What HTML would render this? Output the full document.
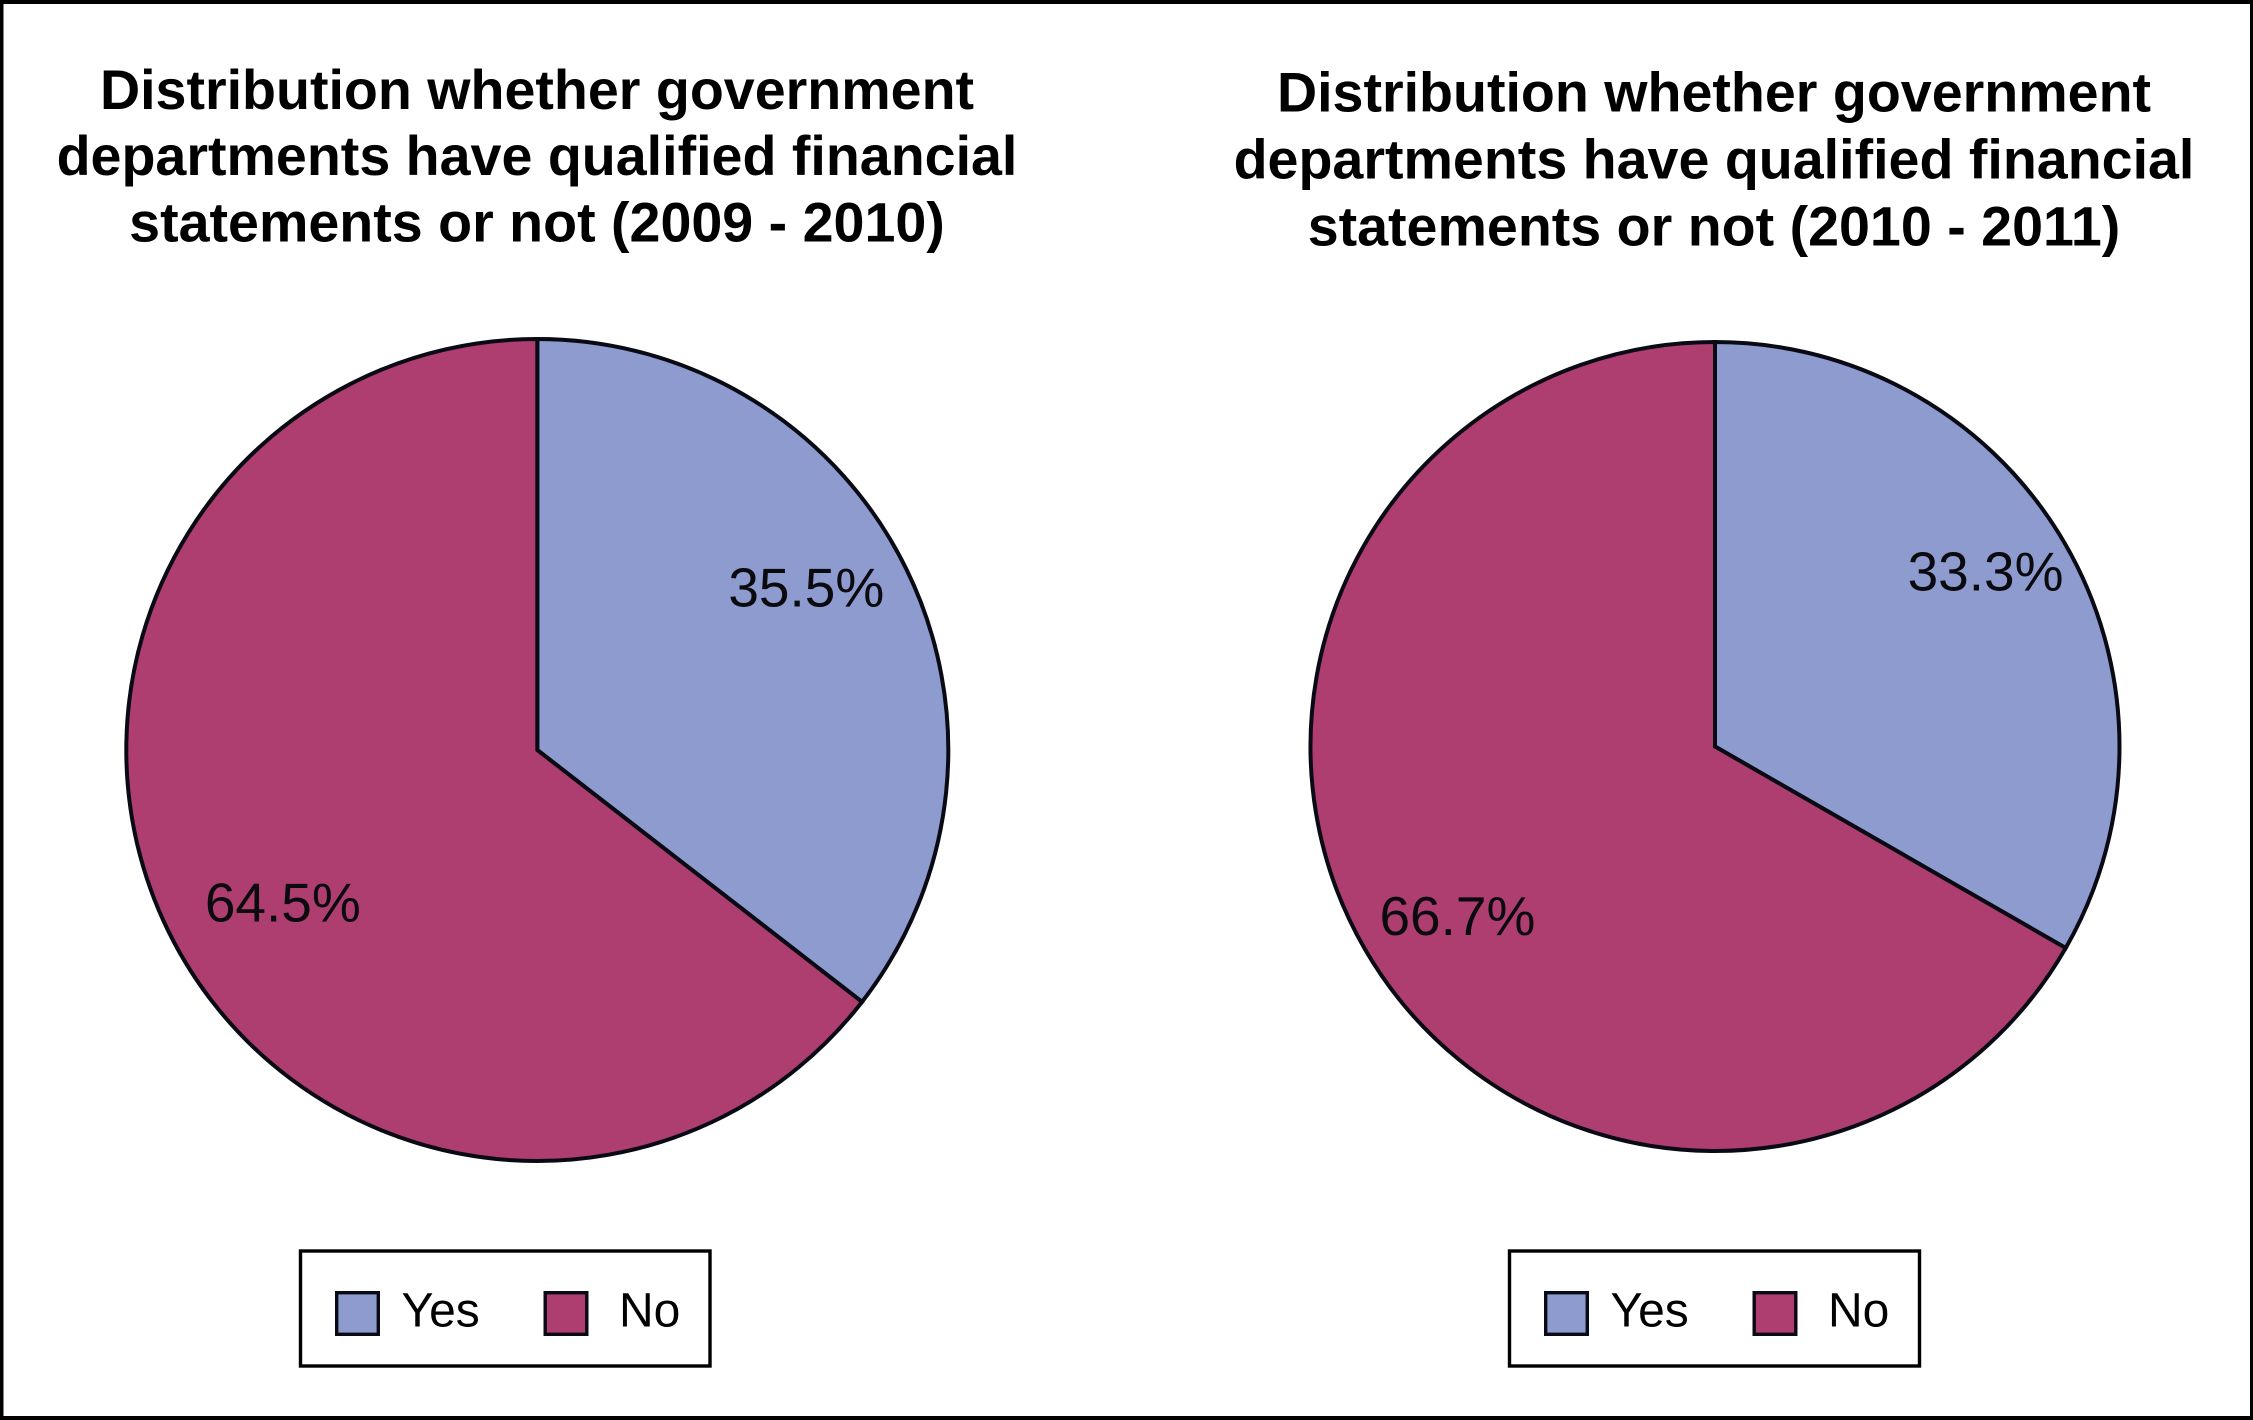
<!DOCTYPE html>
<html lang="en">
<head>
<meta charset="utf-8">
<title>Distribution of qualified financial statements</title>
<style>
html,body{margin:0;padding:0;background:#fff;}
svg{display:block;}
text{font-family:"Liberation Sans",Arial,sans-serif;fill:#0a0a0f;}
.title{font-weight:700;font-size:55.6px;text-anchor:middle;fill:#000;}
.pct{font-size:55px;text-anchor:middle;}
.leg{font-size:48px;fill:#000;}
</style>
</head>
<body>
<svg id="chart" width="2253" height="1420" viewBox="0 0 2253 1420" xmlns="http://www.w3.org/2000/svg">
  <rect x="0" y="0" width="2253" height="1420" fill="#ffffff"/>
  <rect x="0" y="0" width="2253" height="4" fill="#000"/>
  <rect x="0" y="0" width="3.5" height="1420" fill="#000"/>
  <rect x="0" y="1416" width="2253" height="4" fill="#000"/>
  <rect x="2250" y="0" width="3" height="1420" fill="#000"/>
  <g>
    <text class="title" x="537" y="109">Distribution whether government</text>
    <text class="title" x="537" y="175">departments have qualified financial</text>
    <text class="title" x="537" y="241.5">statements or not (2009 - 2010)</text>
  </g>
  <g>
    <text class="title" x="1714" y="111.5">Distribution whether government</text>
    <text class="title" x="1714" y="178.5">departments have qualified financial</text>
    <text class="title" x="1714" y="245.5">statements or not (2010 - 2011)</text>
  </g>
  <g id="leftPie"></g>
  <g id="rightPie"></g>
  <g id="leftLegend"></g>
  <g id="rightLegend"></g>
</svg>
<script>
const categories = ['Yes', 'No'];
const values2009 = [35.5, 64.5];
const values2010 = [33.3, 66.7];
const printed2009 = ['35.5%', '64.5%'];
const printed2010 = ['33.3%', '66.7%'];
const colors = ['#8e9bcf', '#ae3e70'];

const NS = 'http://www.w3.org/2000/svg';

function polar(cx, cy, r, fraction) {
  const a = fraction * 2 * Math.PI;
  return [cx + r * Math.sin(a), cy - r * Math.cos(a)];
}

function drawPie(parent, values, labels, cx, cy, r, nudges, prefix) {
  const total = values.reduce(function (s, v) { return s + v; }, 0);
  let start = 0;
  values.forEach(function (v, i) {
    const end = start + v / total;
    const p0 = polar(cx, cy, r, start);
    const p1 = polar(cx, cy, r, end);
    const large = end - start > 0.5 ? 1 : 0;
    const path = document.createElementNS(NS, 'path');
    path.setAttribute('d', 'M' + cx + ' ' + cy + ' L' + p0[0] + ' ' + p0[1] + ' A' + r + ' ' + r + ' 0 ' + large + ' 1 ' + p1[0] + ' ' + p1[1] + ' Z');
    path.setAttribute('fill', colors[i]);
    path.setAttribute('stroke', '#0a0a14');
    path.setAttribute('stroke-width', '4');
    path.setAttribute('stroke-linejoin', 'miter');
    
    
    parent.appendChild(path);
    start = end;
  });
  start = 0;
  values.forEach(function (v, i) {
    const mid = start + v / total / 2;
    const p = polar(cx, cy, r * 0.76, mid);
    const label = document.createElementNS(NS, 'text');
    label.setAttribute('class', 'pct');
    label.setAttribute('x', p[0] + nudges[i][0]);
    label.setAttribute('y', p[1] + nudges[i][1]);
    label.textContent = labels[i];
    
    
    parent.appendChild(label);
    start += v / total;
  });
}

function drawLegend(parent, box, swatchX, textX, prefix) {
  const frame = document.createElementNS(NS, 'rect');
  frame.setAttribute('x', box[0]);
  frame.setAttribute('y', 1251);
  frame.setAttribute('width', box[1] - box[0]);
  frame.setAttribute('height', 115);
  frame.setAttribute('fill', '#fff');
  frame.setAttribute('stroke', '#000');
  frame.setAttribute('stroke-width', '3.4');
  
  
  parent.appendChild(frame);
  categories.forEach(function (c, i) {
    const sw = document.createElementNS(NS, 'rect');
    sw.setAttribute('x', swatchX[i] + 1.7);
    sw.setAttribute('y', 1292.7);
    sw.setAttribute('width', 41.6);
    sw.setAttribute('height', 41.6);
    sw.setAttribute('fill', colors[i]);
    sw.setAttribute('stroke', '#0a0a14');
    sw.setAttribute('stroke-width', '3.4');
    
    
    parent.appendChild(sw);
    const t = document.createElementNS(NS, 'text');
    t.setAttribute('class', 'leg');
    t.setAttribute('x', textX[i]);
    t.setAttribute('y', 1326.5);
    t.textContent = c;
    
    
    parent.appendChild(t);
  });
}

drawPie(document.getElementById('leftPie'), values2009, printed2009, 537.3, 750, 411, [[-11.5, -6], [26, 34]], 'left');
drawPie(document.getElementById('rightPie'), values2010, printed2010, 1715, 746.5, 404.5, [[4.5, -2], [8.5, 34.5]], 'right');
drawLegend(document.getElementById('leftLegend'), [300.5, 710], [335, 543.5], [401.5, 619], 'left');
drawLegend(document.getElementById('rightLegend'), [1509.5, 1919.5], [1544, 1752.5], [1610.5, 1828], 'right');
</script>
</body>
</html>
